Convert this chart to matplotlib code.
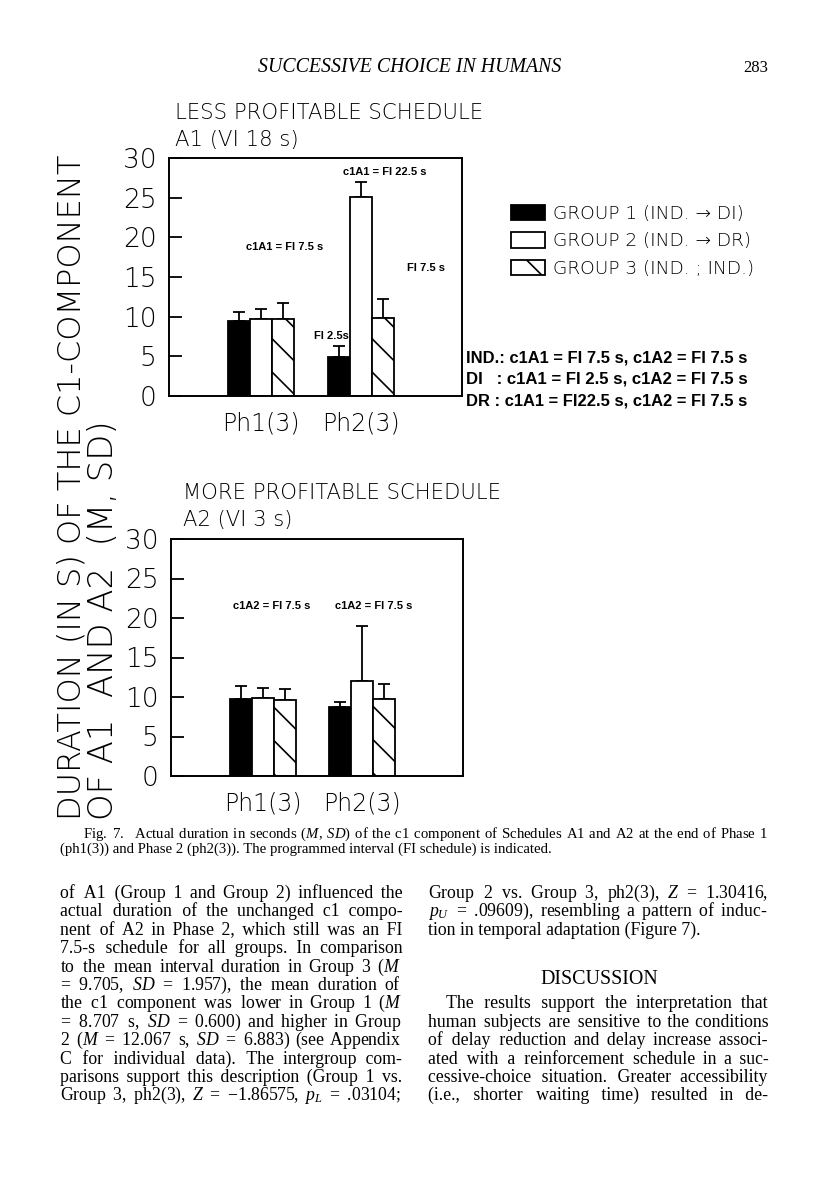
import matplotlib
matplotlib.use('Agg')
import matplotlib.pyplot as plt
import numpy as np

phases = ['Ph1(3)', 'Ph2(3)']
groups = ['GROUP 1 (IND. → DI)', 'GROUP 2 (IND. → DR)', 'GROUP 3 (IND. ; IND.)']
y_ticks = [0, 5, 10, 15, 20, 25, 30]

# A1, less profitable schedule: mean and SD per group (Ph1, Ph2)
a1_mean_g1 = [9.45, 4.9]
a1_mean_g2 = [9.7, 25.1]
a1_mean_g3 = [9.7, 9.85]
a1_sd_g1 = [1.2, 1.4]
a1_sd_g2 = [1.3, 1.9]
a1_sd_g3 = [2.0, 2.4]

# A2, more profitable schedule
a2_mean_g1 = [9.75, 8.707]
a2_mean_g2 = [9.85, 12.067]
a2_mean_g3 = [9.6, 9.705]
a2_sd_g1 = [1.7, 0.600]
a2_sd_g2 = [1.3, 6.883]
a2_sd_g3 = [1.4, 1.957]

schedule_notes = ['IND.: c1A1 = FI 7.5 s, c1A2 = FI 7.5 s',
                  'DI   : c1A1 = FI 2.5 s, c1A2 = FI 7.5 s',
                  'DR : c1A1 = FI22.5 s, c1A2 = FI 7.5 s']

caption = ['Fig. 7.  Actual duration in seconds ($M$, $SD$) of the c1 component of Schedules A1 and A2 at the end of Phase 1',
           '(ph1(3)) and Phase 2 (ph2(3)). The programmed interval (FI schedule) is indicated.']

left_col = ['of A1 (Group 1 and Group 2) influenced the',
            'actual duration of the unchanged c1 compo-',
            'nent of A2 in Phase 2, which still was an FI',
            '7.5-s schedule for all groups. In comparison',
            'to the mean interval duration in Group 3 ($M$',
            '= 9.705, $SD$ = 1.957), the mean duration of',
            'the c1 component was lower in Group 1 ($M$',
            '= 8.707 s, $SD$ = 0.600) and higher in Group',
            '2 ($M$ = 12.067 s, $SD$ = 6.883) (see Appendix',
            'C for individual data). The intergroup com-',
            'parisons support this description (Group 1 vs.',
            'Group 3, ph2(3), $Z$ = −1.86575, $p_L$ = .03104;']

right_col_1 = ['Group 2 vs. Group 3, ph2(3), $Z$ = 1.30416,',
               '$p_U$ = .09609), resembling a pattern of induc-',
               'tion in temporal adaptation (Figure 7).']

right_col_2 = ['The results support the interpretation that',
               'human subjects are sensitive to the conditions',
               'of delay reduction and delay increase associ-',
               'ated with a reinforcement schedule in a suc-',
               'cessive-choice situation. Greater accessibility',
               '(i.e., shorter waiting time) resulted in de-']

plt.rcParams['font.family'] = 'DejaVu Sans'
plt.rcParams['font.weight'] = 'light'
plt.rcParams['mathtext.fontset'] = 'custom'
plt.rcParams['mathtext.rm'] = 'Liberation Serif'
plt.rcParams['mathtext.it'] = 'Liberation Serif:italic'
plt.rcParams['hatch.linewidth'] = 1.2

serif = ['Liberation Serif', 'DejaVu Serif']

W, H = 816, 1200
fig = plt.figure(figsize=(8.16, 12), dpi=100)
renderer = fig.canvas.get_renderer()


def fx(x):
    return x / W


def fy(y):
    return 1 - y / H


def text_w(t):
    return t.get_window_extent(renderer).width


def fit_width(t, width_px):
    t.set_fontsize(t.get_fontsize() * width_px / text_w(t))


def hair_width(size):
    a = fig.text(0, 0, 'x' + '\u200a' * 20 + 'x', fontsize=size, family=serif, weight='normal')
    b = fig.text(0, 0, 'xx', fontsize=size, family=serif, weight='normal')
    hw = (text_w(a) - text_w(b)) / 20
    a.remove()
    b.remove()
    return hw


def justify(line, x0, x1, y, size, last=False):
    # one text per line; spread it to the column width with hair spaces
    t = fig.text(fx(x0), fy(y), line, fontsize=size, va='baseline', family=serif,
                 weight='normal')
    if last:
        return
    extra = (x1 - x0) - text_w(t)
    if extra < 0:
        fit_width(t, x1 - x0)
        return
    words = line.split(' ')
    n = int(round(extra / hair_width(size)))
    per, rem = divmod(n, len(words) - 1)
    out = words[0]
    for i, wd in enumerate(words[1:]):
        out += ' ' + '\u200a' * (per + (1 if i < rem else 0)) + wd
    t.set_text(out)


def draw_panel(ax, means, sds):
    x = np.arange(1, len(phases) + 1)
    w = 0.22
    styles = [dict(facecolor='black'), dict(facecolor='white'),
              dict(facecolor='white', hatch='\\')]
    bars = []
    for i in range(3):
        xs = x + (i - 1) * w
        ax.errorbar(xs, means[i], yerr=[np.zeros(len(x)), sds[i]], fmt='none',
                    ecolor='black', elinewidth=1.3, capsize=4.5, capthick=1.3, zorder=1)
        bars.append(ax.bar(xs, means[i], w, edgecolor='black', linewidth=1.3,
                           zorder=2, **styles[i]))
    ax.set_xlim(0.08, 3.01)
    ax.set_ylim(0, 30)
    ax.set_yticks(y_ticks)
    ax.set_xticks(x, phases)
    ax.tick_params(axis='y', direction='in', length=9, width=1.3, pad=9, labelsize=19)
    ax.tick_params(axis='x', length=0, pad=11, labelsize=17)
    for s in ax.spines.values():
        s.set_linewidth(1.4)
    return bars


ax1 = fig.add_axes([fx(169), fy(396), (462 - 169) / W, (396 - 158) / H])
bars = draw_panel(ax1, [a1_mean_g1, a1_mean_g2, a1_mean_g3], [a1_sd_g1, a1_sd_g2, a1_sd_g3])
ax2 = fig.add_axes([fx(171), fy(776), (463 - 171) / W, (776 - 539) / H])
draw_panel(ax2, [a2_mean_g1, a2_mean_g2, a2_mean_g3], [a2_sd_g1, a2_sd_g2, a2_sd_g3])

# FI annotations inside the panels
note = dict(family='Liberation Sans', fontweight='bold', fontsize=8, ha='center', va='center')
ax1.text(2.24, 28.2, 'c1A1 = FI 22.5 s', **note)
ax1.text(1.24, 18.8, 'c1A1 = FI 7.5 s', **note)
ax1.text(2.65, 16.1, 'FI 7.5 s', **note)
ax1.text(1.70, 7.6, 'FI 2.5s', zorder=1, **note)
ax2.text(1.09, 21.5, 'c1A2 = FI 7.5 s', **note)
ax2.text(2.11, 21.5, 'c1A2 = FI 7.5 s', **note)

# panel titles
t = fig.text(fx(175), fy(113), 'LESS PROFITABLE SCHEDULE', fontsize=15, va='center')
fit_width(t, 308)
fig.text(fx(175), fy(140), 'A1 (VI 18 s)', fontsize=t.get_fontsize(), va='center')
t = fig.text(fx(183), fy(493), 'MORE PROFITABLE SCHEDULE', fontsize=15, va='center')
fit_width(t, 317)
fig.text(fx(183), fy(520), 'A2 (VI 3 s)', fontsize=t.get_fontsize(), va='center')

# two-line y label
t = fig.text(fx(72), fy(487), 'DURATION (IN S) OF THE C1-COMPONENT', fontsize=22,
             ha='center', va='center')
fit_width(t, 665)
t.set_rotation(90)
t = fig.text(fx(104), fy(620), 'OF A1  AND A2  (M, SD)', fontsize=22,
             ha='center', va='center')
fit_width(t, 400)
t.set_rotation(90)

# legend
fig.legend(bars, groups, loc='upper left', bbox_to_anchor=(fx(494), fy(188)),
           frameon=False, fontsize=13.3, handlelength=1.85, handleheight=0.9,
           handletextpad=0.45, labelspacing=0.52)

for i, s in enumerate(schedule_notes):
    t = fig.text(fx(466), fy(358 + i * 21.5), s, family='Liberation Sans',
                 fontweight='bold', fontsize=9.5, va='center')
    fit_width(t, 282)

# page header
t = fig.text(fx(258), fy(72), 'SUCCESSIVE CHOICE IN HUMANS', family=serif,
             weight='normal', style='italic', fontsize=13, va='baseline')
fit_width(t, 302)
fig.text(fx(768), fy(72), '283', family=serif, weight='normal', fontsize=12,
         ha='right', va='baseline')

justify(caption[0], 83, 768, 838, 10.6)
justify(caption[1], 60, 768, 853, 10.6, last=True)

y0, dy, size = 898, 18.4, 12.8
for i, line in enumerate(left_col):
    justify(line, 60, 402, y0 + i * dy, size)
for i, line in enumerate(right_col_1):
    justify(line, 428, 768, y0 + i * dy, size, last=(i == 2))
fig.text(fx(599), fy(y0 + 4.65 * dy), 'DISCUSSION', ha='center', va='baseline',
         fontsize=14.4, family=serif, weight='normal')
for i, line in enumerate(right_col_2):
    x0 = 446 if i == 0 else 428
    justify(line, x0, 768, y0 + (6 + i) * dy, size)

fig.savefig('out.png', dpi=100, facecolor='white')
